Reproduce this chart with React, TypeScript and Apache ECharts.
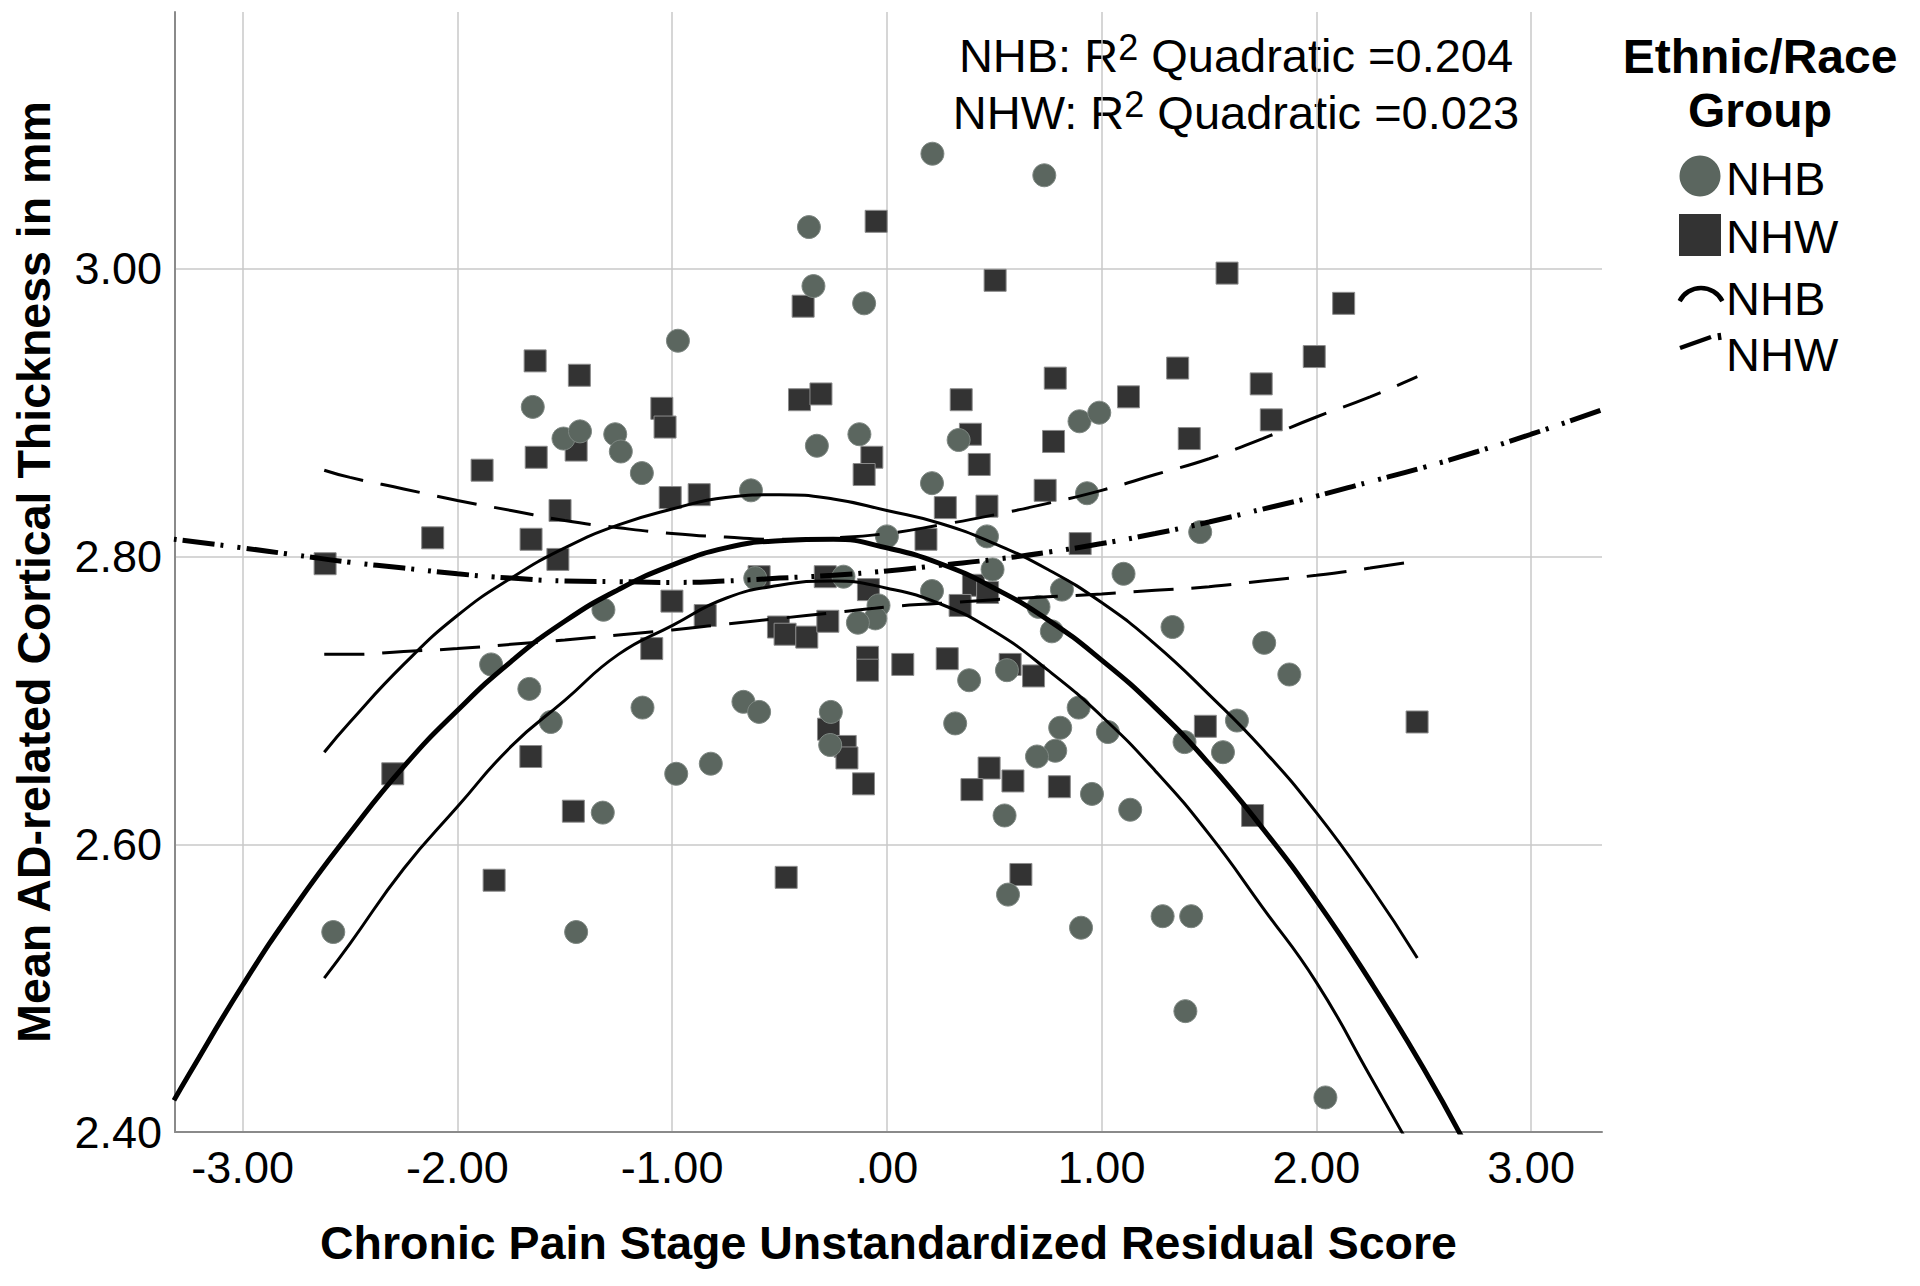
import React, { useEffect, useRef } from "react";
import * as echarts from "echarts";

const FONT = "'Liberation Sans', Arial, Helvetica, sans-serif";

// NHB scatter points (circles)
const nhbPoints: [number, number][] = [
  [-1.649, 2.904], [-1.506, 2.882], [-1.429, 2.887], [-1.265, 2.885], [-1.239, 2.873],
  [-1.141, 2.858], [0.212, 3.080], [0.733, 3.065], [-0.363, 3.029], [-0.342, 2.988],
  [-0.106, 2.976], [-0.973, 2.950], [-0.326, 2.877], [-0.128, 2.885], [0.334, 2.881],
  [0.897, 2.894], [0.989, 2.900], [0.210, 2.851], [0.932, 2.844], [-0.633, 2.846],
  [-1.320, 2.763], [-1.843, 2.725], [-1.665, 2.708], [-1.565, 2.685], [-1.138, 2.695],
  [-1.323, 2.622], [0.000, 2.814], [0.466, 2.814], [0.492, 2.791], [1.102, 2.788],
  [-0.613, 2.785], [-0.202, 2.786], [-0.039, 2.766], [-0.054, 2.757], [-0.135, 2.754],
  [0.210, 2.776], [0.706, 2.765], [0.815, 2.777], [0.768, 2.748], [0.383, 2.714],
  [0.559, 2.721], [-0.668, 2.699], [-0.595, 2.692], [-0.261, 2.692], [-0.264, 2.669],
  [-0.981, 2.649], [-0.820, 2.656], [0.318, 2.684], [0.893, 2.695], [0.807, 2.681],
  [0.784, 2.665], [0.699, 2.661], [1.029, 2.678], [0.955, 2.635], [1.133, 2.624],
  [0.548, 2.620], [1.459, 2.817], [1.330, 2.751], [1.757, 2.740], [1.874, 2.718],
  [1.630, 2.686], [1.386, 2.671], [1.565, 2.664], [-2.578, 2.539], [-1.447, 2.539],
  [0.564, 2.565], [0.904, 2.542], [1.284, 2.550], [1.417, 2.550], [1.390, 2.484],
  [2.042, 2.424],
];

// NHW scatter points (squares)
const nhwPoints: [number, number][] = [
  [-1.638, 2.936], [-1.432, 2.926], [-1.447, 2.874], [-1.633, 2.869], [-1.885, 2.860],
  [-1.048, 2.903], [-1.033, 2.890], [-0.050, 3.033], [-0.390, 2.974], [0.504, 2.992],
  [-0.407, 2.909], [-0.307, 2.913], [-0.070, 2.869], [-0.106, 2.857], [0.784, 2.924],
  [0.346, 2.909], [1.125, 2.911], [0.389, 2.885], [0.776, 2.880], [0.430, 2.864],
  [0.737, 2.846], [-0.874, 2.843], [-1.009, 2.841], [1.584, 2.997], [2.127, 2.976],
  [1.990, 2.939], [1.354, 2.931], [1.743, 2.920], [1.790, 2.895], [1.408, 2.882],
  [-1.522, 2.832], [-2.115, 2.813], [-1.657, 2.812], [-1.532, 2.798], [-2.616, 2.795],
  [-1.095, 2.736], [-1.658, 2.661], [-2.301, 2.649], [-1.460, 2.623], [0.272, 2.834],
  [0.466, 2.835], [0.182, 2.812], [0.900, 2.809], [-1.001, 2.769], [-0.846, 2.759],
  [-0.595, 2.786], [-0.287, 2.786], [-0.086, 2.777], [-0.505, 2.751], [-0.474, 2.746],
  [-0.373, 2.744], [-0.275, 2.755], [0.403, 2.780], [0.469, 2.775], [0.341, 2.766],
  [0.574, 2.725], [-0.090, 2.730], [-0.090, 2.721], [0.074, 2.725], [0.281, 2.729],
  [0.683, 2.717], [-0.272, 2.680], [-0.194, 2.668], [-0.186, 2.660], [-0.109, 2.642],
  [0.476, 2.653], [0.587, 2.644], [0.396, 2.638], [0.803, 2.640], [1.483, 2.682],
  [2.469, 2.685], [1.703, 2.620], [-1.829, 2.575], [-0.469, 2.577], [0.624, 2.579],
];

// NHB quadratic fit line
const nhbFitX = [-3.32, -3.25, -3.0, -2.75, -2.5, -2.25, -2.0, -1.75, -1.5, -1.25, -1.0, -0.75, -0.5, -0.25,
  0.0, 0.25, 0.5, 0.75, 1.0, 1.25, 1.5, 1.75, 2.0, 2.25, 2.5, 2.7];
const nhbFitY = [2.422, 2.440, 2.502, 2.558, 2.608, 2.654, 2.693, 2.727, 2.755, 2.777, 2.794, 2.806, 2.811, 2.812,
  2.806, 2.795, 2.778, 2.756, 2.728, 2.695, 2.656, 2.611, 2.561, 2.505, 2.444, 2.390];

// NHB 95% CI curves
const nhbCiX = [-2.62, -2.5, -2.25, -2.0, -1.75, -1.5, -1.25, -1.0, -0.75, -0.5, -0.25, 0.0,
  0.25, 0.5, 0.75, 1.0, 1.25, 1.5, 1.75, 2.0, 2.25, 2.47];
const nhbCiUpper = [2.664, 2.685, 2.725, 2.759, 2.785, 2.806, 2.822, 2.833, 2.841, 2.843, 2.840, 2.832,
  2.823, 2.809, 2.791, 2.768, 2.739, 2.704, 2.666, 2.622, 2.571, 2.521];
const nhbCiLower = [2.507, 2.531, 2.583, 2.626, 2.668, 2.700, 2.732, 2.752, 2.771, 2.780, 2.783, 2.778,
  2.767, 2.748, 2.721, 2.689, 2.651, 2.607, 2.556, 2.504, 2.439, 2.381];

// NHW quadratic fit line
const nhwFitX = [-3.32, -3.0, -2.75, -2.5, -2.25, -2.0, -1.75, -1.5, -1.25, -1.0, -0.75, -0.5, -0.25,
  0.0, 0.25, 0.5, 0.75, 1.0, 1.25, 1.5, 1.75, 2.0, 2.25, 2.5, 2.75, 3.0, 3.33];
const nhwFitY = [2.812, 2.806, 2.801, 2.796, 2.792, 2.788, 2.785, 2.783, 2.7825, 2.782, 2.783, 2.785, 2.787,
  2.790, 2.794, 2.798, 2.803, 2.809, 2.816, 2.824, 2.833, 2.842, 2.852, 2.862, 2.873, 2.885, 2.902];

// NHW 95% CI curves
const nhwCiX = [-2.62, -2.5, -2.25, -2.0, -1.75, -1.5, -1.25, -1.0, -0.75, -0.5, -0.25, 0.0,
  0.25, 0.5, 0.75, 1.0, 1.25, 1.5, 1.75, 2.0, 2.25, 2.47];
const nhwCiUpper = [2.860, 2.855, 2.847, 2.839, 2.832, 2.825, 2.820, 2.816, 2.8135, 2.812, 2.813, 2.816,
  2.822, 2.829, 2.837, 2.846, 2.857, 2.868, 2.882, 2.897, 2.911, 2.925];
const nhwCiLower = [2.732, 2.732, 2.734, 2.736, 2.739, 2.742, 2.7455, 2.749, 2.753, 2.757, 2.761, 2.765,
  2.7675, 2.770, 2.772, 2.774, 2.7765, 2.779, 2.783, 2.787, 2.792, 2.797];

const xRange = [-3.315, 3.33];
const yRange = [2.4, 3.1785];

const r2Lines = [
  { group: "NHB", value: "0.204" },
  { group: "NHW", value: "0.023" },
];
const legendTitle = ["Ethnic/Race", "Group"];
const legendItems = ["NHB", "NHW", "NHB", "NHW"];

const zip = (xs: number[], ys: number[]) => xs.map((x, i) => [x, ys[i]]);

const fmt = (v: number) => {
  if (Math.abs(v) < 1e-9) return ".00";
  return v.toFixed(2);
};

export default function App() {
  const ref = useRef<HTMLDivElement>(null);

  useEffect(() => {
    if (!ref.current) return;
    const chart = echarts.init(ref.current, undefined, { renderer: "svg" });

    const rich = {
      t: { fontSize: 47, fontFamily: FONT, fill: "#000", lineHeight: 52 },
      s: { fontSize: 36, fontFamily: FONT, fill: "#000", lineHeight: 30, verticalAlign: "top" },
    };

    const legendY = [178, 236, 298, 354];

    const graphic: any[] = [
      ...r2Lines.map((l, i) => ({
        type: "text",
        x: 1236,
        y: 55 + i * 57,
        style: {
          text: `{t|${l.group}: R}{s|2}{t| Quadratic =${l.value}}`,
          rich,
          align: "center",
          verticalAlign: "middle",
        },
      })),
      ...legendTitle.map((t, i) => ({
        type: "text",
        x: 1760,
        y: 56 + i * 54,
        style: {
          text: t,
          fontSize: 48,
          fontWeight: "bold",
          fontFamily: FONT,
          fill: "#000",
          align: "center",
          verticalAlign: "middle",
        },
      })),
      { type: "circle", shape: { cx: 1700, cy: legendY[0] - 2, r: 20.5 }, style: { fill: "#5b665f" } },
      { type: "rect", shape: { x: 1679, y: legendY[1] - 22, width: 42, height: 42 }, style: { fill: "#333333" } },
      {
        type: "arc",
        shape: { cx: 1701, cy: legendY[2] + 14, r: 24, startAngle: -Math.PI * 0.85, endAngle: -Math.PI * 0.15, clockwise: true },
        style: { stroke: "#000", lineWidth: 4.5, fill: "none" },
      },
      { type: "line", shape: { x1: 1680, y1: legendY[3] - 6, x2: 1711, y2: legendY[3] - 17 }, style: { stroke: "#000", lineWidth: 4.5 } },
      { type: "line", shape: { x1: 1719, y1: legendY[3] - 21, x2: 1720, y2: legendY[3] - 14 }, style: { stroke: "#000", lineWidth: 3.5 } },
      ...legendItems.map((t, i) => ({
        type: "text",
        x: 1726,
        y: legendY[i],
        style: {
          text: t,
          fontSize: 47,
          fontFamily: FONT,
          fill: "#000",
          align: "left",
          verticalAlign: "middle",
        },
      })),
    ];

    const lineSeries = (name: string, data: number[][], width: number, type: any) => ({
      type: "line",
      name,
      data,
      smooth: true,
      symbol: "none",
      lineStyle: { color: "#000", width, type },
      silent: true,
    });

    const option: any = {
      animation: false,
      backgroundColor: "#ffffff",
      grid: { left: 175, top: 12, width: 1427, height: 1120, containLabel: false, outerBoundsMode: "none" },
      xAxis: {
        type: "value",
        min: xRange[0],
        max: xRange[1],
        minInterval: 1,
        maxInterval: 1,
        name: "Chronic Pain Stage Unstandardized Residual Score",
        nameLocation: "middle",
        nameGap: 87,
        nameTextStyle: { fontFamily: FONT, fontWeight: "bold", fontSize: 46.5, color: "#000" },
        axisLine: { show: true, onZero: false, lineStyle: { color: "#8a8a8a", width: 2 } },
        axisTick: { show: false },
        axisLabel: {
          fontFamily: FONT,
          fontSize: 45,
          color: "#000",
          margin: 13,
          showMinLabel: false,
          showMaxLabel: false,
          formatter: fmt,
        },
        splitLine: { show: true, showMinLine: false, showMaxLine: false, lineStyle: { color: "#c8c8c8", width: 1.5 } },
      },
      yAxis: {
        type: "value",
        min: yRange[0],
        max: yRange[1],
        interval: 0.2,
        name: "Mean AD-related Cortical Thickness in mm",
        nameLocation: "middle",
        nameGap: 118,
        nameTextStyle: { fontFamily: FONT, fontWeight: "bold", fontSize: 46.5, color: "#000" },
        axisLine: { show: true, onZero: false, lineStyle: { color: "#8a8a8a", width: 2 } },
        axisTick: { show: false },
        axisLabel: {
          fontFamily: FONT,
          fontSize: 45,
          color: "#000",
          margin: 13,
          showMinLabel: true,
          showMaxLabel: false,
          formatter: fmt,
        },
        splitLine: { show: true, showMinLine: false, showMaxLine: false, lineStyle: { color: "#c8c8c8", width: 1.5 } },
      },
      graphic,
      series: [
        {
          type: "scatter",
          name: "NHW",
          data: nhwPoints,
          symbol: "rect",
          symbolSize: 22,
          itemStyle: { color: "#333333", borderColor: "#8c8c8c", borderWidth: 1, opacity: 1 },
          silent: true,
        },
        {
          type: "scatter",
          name: "NHB",
          data: nhbPoints,
          symbol: "circle",
          symbolSize: 23,
          itemStyle: { color: "#5b665f", borderColor: "#7e8782", borderWidth: 1, opacity: 1 },
          silent: true,
        },
        lineSeries("NHW CI upper", zip(nhwCiX, nhwCiUpper), 3, [40, 18]),
        lineSeries("NHW CI lower", zip(nhwCiX, nhwCiLower), 3, [40, 18]),
        lineSeries("NHW fit", zip(nhwFitX, nhwFitY), 5, [3, 6, 32, 6, 3, 14]),
        lineSeries("NHB CI upper", zip(nhbCiX, nhbCiUpper), 3, "solid"),
        lineSeries("NHB CI lower", zip(nhbCiX, nhbCiLower), 3, "solid"),
        lineSeries("NHB fit", zip(nhbFitX, nhbFitY), 5, "solid"),
      ],
    };

    chart.setOption(option);
    return () => chart.dispose();
  }, []);

  return (
    <div
      ref={ref}
      style={{ position: "fixed", left: 0, top: 0, width: 1920, height: 1286, background: "#fff" }}
    />
  );
}
